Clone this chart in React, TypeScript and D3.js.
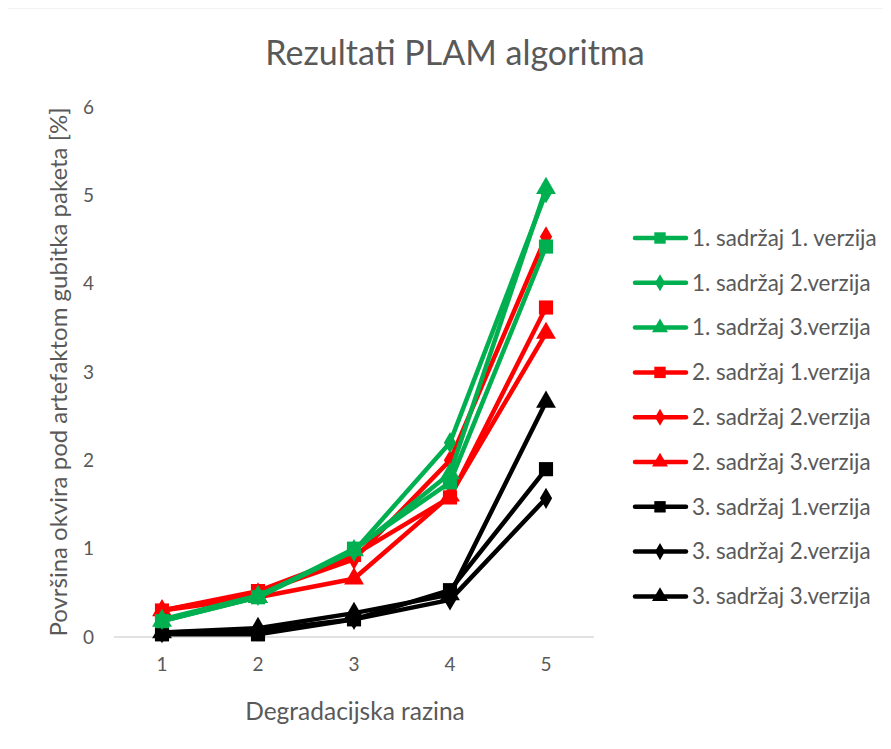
import React, { useRef, useEffect } from 'react';
import * as d3 from 'd3';

const levels = ['1', '2', '3', '4', '5'];
const yTicks = [0, 1, 2, 3, 4, 5, 6];

const seriesNames = [
  '1. sadržaj 1. verzija',
  '1. sadržaj 2.verzija',
  '1. sadržaj 3.verzija',
  '2. sadržaj 1.verzija',
  '2. sadržaj 2.verzija',
  '2. sadržaj 3.verzija',
  '3. sadržaj 1.verzija',
  '3. sadržaj 2.verzija',
  '3. sadržaj 3.verzija',
];

const g1 = [0.18, 0.45, 1.0, 1.75, 4.42];
const g2 = [0.2, 0.47, 0.97, 2.2, 5.03];
const g3 = [0.18, 0.45, 0.98, 1.85, 5.08];
const r1 = [0.3, 0.52, 0.93, 1.58, 3.73];
const r2 = [0.3, 0.5, 0.88, 2.0, 4.53];
const r3 = [0.3, 0.45, 0.66, 1.6, 3.44];
const b1 = [0.03, 0.03, 0.2, 0.53, 1.9];
const b2 = [0.05, 0.07, 0.2, 0.42, 1.57];
const b3 = [0.05, 0.1, 0.27, 0.48, 2.66];

const seriesValues = [g1, g2, g3, r1, r2, r3, b1, b2, b3];
const seriesColors = ['#00B050', '#00B050', '#00B050', '#FF0000', '#FF0000', '#FF0000', '#000000', '#000000', '#000000'];
const seriesMarkers = ['square', 'diamond', 'triangle', 'square', 'diamond', 'triangle', 'square', 'diamond', 'triangle'];

const FONT = 'Lato, sans-serif';
const TEXT = '#595959';

const markerSymbol = (m: string) =>
  m === 'square' ? d3.symbolSquare : m === 'diamond' ? d3.symbolDiamond : d3.symbolTriangle;
const markerSize = (m: string) => (m === 'square' ? 200 : m === 'diamond' ? 130 : 170);

export default function App() {
  const ref = useRef<SVGSVGElement | null>(null);

  useEffect(() => {
    if (!ref.current) return;
    const svg = d3.select(ref.current);
    svg.selectAll('*').remove();

    const W = 891;
    const H = 749;
    const plot = { left: 114, right: 594, top: 107, bottom: 637 };

    svg.append('rect').attr('width', W).attr('height', H).attr('fill', '#fff');
    // outer chart border (only top and left edges fall inside the picture)
    svg.append('path')
      .attr('d', `M5.5,${H} V7.5 H${W}`)
      .attr('fill', 'none')
      .attr('stroke', '#d0d0d0')
      .attr('stroke-width', 1.5);

    const x = d3.scalePoint<string>().domain(levels).range([plot.left, plot.right]).padding(0.5);
    const y = d3.scaleLinear().domain([0, 6]).range([plot.bottom, plot.top]);

    // title
    svg.append('text')
      .attr('x', 455).attr('y', 65)
      .attr('text-anchor', 'middle')
      .attr('font-family', FONT)
      .attr('font-size', 34)
      .attr('fill', TEXT)
      .text('Rezultati PLAM algoritma');

    // baseline
    svg.append('line')
      .attr('x1', plot.left).attr('x2', plot.right)
      .attr('y1', y(0)).attr('y2', y(0))
      .attr('stroke', '#d9d9d9').attr('stroke-width', 1.3);

    // y tick labels
    svg.append('g')
      .selectAll('text')
      .data(yTicks)
      .join('text')
      .attr('x', 94)
      .attr('y', d => y(d))
      .attr('dy', '0.35em')
      .attr('text-anchor', 'end')
      .attr('font-family', FONT)
      .attr('font-size', 19)
      .attr('fill', TEXT)
      .text(d => d);

    // x tick labels
    svg.append('g')
      .selectAll('text')
      .data(levels)
      .join('text')
      .attr('x', d => x(d)!)
      .attr('y', 671)
      .attr('text-anchor', 'middle')
      .attr('font-family', FONT)
      .attr('font-size', 19)
      .attr('fill', TEXT)
      .text(d => d);

    // axis titles
    svg.append('text')
      .attr('x', 355).attr('y', 720)
      .attr('text-anchor', 'middle')
      .attr('font-family', FONT)
      .attr('font-size', 24.5)
      .attr('fill', TEXT)
      .text('Degradacijska razina');

    svg.append('text')
      .attr('transform', `translate(67,372) rotate(-90)`)
      .attr('text-anchor', 'middle')
      .attr('font-family', FONT)
      .attr('font-size', 24)
      .attr('fill', TEXT)
      .text('Površina okvira pod artefaktom gubitka paketa [%]');

    const line = d3.line<number>()
      .x((_, i) => x(levels[i])!)
      .y(d => y(d));

    const series = svg.append('g');
    // draw in reverse so the first series sit on top like the reference
    const order = d3.range(seriesValues.length).reverse();
    order.forEach(i => {
      const vals = seriesValues[i];
      const gs = series.append('g');
      gs.append('path')
        .datum(vals)
        .attr('fill', 'none')
        .attr('stroke', seriesColors[i])
        .attr('stroke-width', 4.5)
        .attr('stroke-linejoin', 'round')
        .attr('d', line);
      gs.selectAll('path.m')
        .data(vals)
        .join('path')
        .attr('class', 'm')
        .attr('transform', (d, j) => `translate(${x(levels[j])},${y(d)})`)
        .attr('d', d3.symbol().type(markerSymbol(seriesMarkers[i])).size(markerSize(seriesMarkers[i]))())
        .attr('fill', seriesColors[i]);
    });

    // legend
    const legend = svg.append('g');
    seriesNames.forEach((name, i) => {
      const ly = 238 + i * 44.8;
      const lg = legend.append('g').attr('transform', `translate(0,${ly})`);
      lg.append('line')
        .attr('x1', 635).attr('x2', 686)
        .attr('stroke', seriesColors[i])
        .attr('stroke-width', 4.5)
        .attr('stroke-linecap', 'round');
      lg.append('path')
        .attr('transform', 'translate(660,0)')
        .attr('d', d3.symbol().type(markerSymbol(seriesMarkers[i])).size(markerSize(seriesMarkers[i]) * 0.65)())
        .attr('fill', seriesColors[i]);
      lg.append('text')
        .attr('x', 692)
        .attr('dy', '0.35em')
        .attr('font-family', FONT)
        .attr('font-size', 22.4)
        .attr('fill', TEXT)
        .text(name);
    });
  }, []);

  return (
    <div style={{ margin: -8 }}>
      <svg ref={ref} width={891} height={749} style={{ display: 'block' }} />
    </div>
  );
}
